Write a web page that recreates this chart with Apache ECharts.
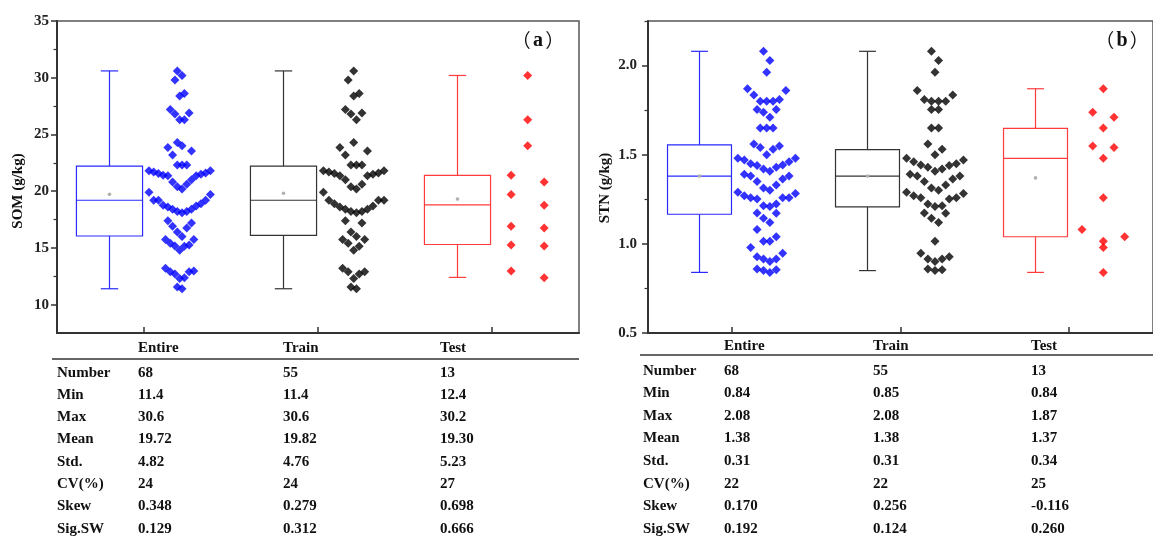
<!DOCTYPE html>
<html>
<head>
<meta charset="utf-8">
<script src="https://cdn.jsdelivr.net/npm/echarts@6/dist/echarts.min.js"></script>
<style>
html,body{margin:0;padding:0;background:#fff;}
#chart{width:1153px;height:538px;}
</style>
</head>
<body>
<div id="chart"></div>
<script>
// ---------------- DATA ----------------
const categories = ['Entire', 'Train', 'Test'];
const panelLabels = ['a', 'b'];

// SOM (g/kg) – individual samples
const somTrain = [30.6, 29.8, 28.6, 28.4, 27.2, 26.8, 26.9, 26.3, 24.3, 23.85, 23.2, 23.55,
  22.3, 22.3, 22.3, 21.8, 21.7, 21.55, 21.35, 21.0, 21.35, 21.5, 21.6, 21.8, 20.2, 20.4, 20.6,
  19.9, 19.2, 18.9, 18.6, 18.4, 18.2, 18.1, 18.2, 18.4, 18.7, 19.2, 19.2, 17.2, 17.4,
  15.75, 16.0, 16.4, 15.75, 15.15, 14.8, 15.4, 12.9, 12.7, 12.3, 12.9, 13.2, 11.55, 11.4];
const somTest = [30.2, 26.3, 24.0, 21.4, 19.7, 16.9, 15.26, 12.97, 20.8, 18.76, 16.76, 15.17, 12.38];
const somEntire = somTrain.concat(somTest);

// STN (g/kg)
const stnTrain = [2.08, 2.028, 1.962, 1.86, 1.80, 1.80, 1.80, 1.81, 1.835, 1.753, 1.753, 1.65, 1.65,
  1.56, 1.53, 1.50, 1.461, 1.44, 1.48, 1.45, 1.47, 1.42, 1.43, 1.443, 1.38, 1.38, 1.407, 1.39,
  1.35, 1.364, 1.314, 1.30, 1.33, 1.289, 1.258, 1.283, 1.27, 1.252, 1.258, 1.214, 1.224, 1.209,
  1.171, 1.173, 1.143, 1.12, 1.014, 0.948, 0.901, 0.915, 0.915, 0.928, 0.855, 0.85, 0.859];
const stnTest = [1.87, 1.65, 1.48, 1.259, 1.014, 0.98, 0.84, 1.738, 1.54, 1.71, 1.549, 1.08, 1.04];
const stnEntire = stnTrain.concat(stnTest);

// Box statistics (Entire, Train, Test)
const somMin = [11.4, 11.4, 12.4];
const somQ1 = [16.05, 16.1, 15.3];
const somMedian = [19.2, 19.2, 18.8];
const somQ3 = [22.2, 22.2, 21.4];
const somMax = [30.6, 30.6, 30.2];
const somMean = [19.72, 19.82, 19.30];

const stnMin = [0.84, 0.85, 0.84];
const stnQ1 = [1.166, 1.207, 1.04];
const stnMedian = [1.38, 1.38, 1.48];
const stnQ3 = [1.555, 1.529, 1.648];
const stnMax = [2.08, 2.08, 1.87];
const stnMean = [1.38, 1.38, 1.37];

// Axis ticks
const somMajorTicks = [10, 15, 20, 25, 30, 35];
const somMinorTicks = [12.5, 17.5, 22.5, 27.5, 32.5];
const stnMajorTicks = [0.5, 1.0, 1.5, 2.0];
const stnMinorTicks = [0.75, 1.25, 1.75, 2.25];

// Table
const rowNames = ['Number', 'Min', 'Max', 'Mean', 'Std.', 'CV(%)', 'Skew', 'Sig.SW'];
const somTableEntire = ['68', '11.4', '30.6', '19.72', '4.82', '24', '0.348', '0.129'];
const somTableTrain = ['55', '11.4', '30.6', '19.82', '4.76', '24', '0.279', '0.312'];
const somTableTest = ['13', '12.4', '30.2', '19.30', '5.23', '27', '0.698', '0.666'];
const stnTableEntire = ['68', '0.84', '2.08', '1.38', '0.31', '22', '0.170', '0.192'];
const stnTableTrain = ['55', '0.85', '2.08', '1.38', '0.31', '22', '0.256', '0.124'];
const stnTableTest = ['13', '0.84', '1.87', '1.37', '0.34', '25', '-0.116', '0.260'];

// ---------------- STYLE / LAYOUT ----------------
const FONT = "'Liberation Serif','Times New Roman',serif";
const dotColors = ['#0000ff', '#000000', '#ff0000'];
const boxColors = ['#2a2aff', '#333333', '#ff3b3b'];
const BOX_W = 0.38, CAP_W = 0.1, BOX_OFF = -0.2, SWARM_OFF = 0.205;

// Binned swarm layout (Origin style): points in the same bin spread horizontally,
// lowest value at the centre, rising outwards.
function swarm(values, binWidth, center, width) {
  const bins = new Map();
  values.forEach(v => {
    const k = Math.floor(v / binWidth + 1e-6);
    if (!bins.has(k)) bins.set(k, []);
    bins.get(k).push(v);
  });
  let maxN = 0;
  bins.forEach(b => { maxN = Math.max(maxN, b.length); });
  const step = width / maxN;
  const pts = [];
  bins.forEach(b => {
    b.sort((a, c) => a - c);
    const n = b.length;
    const slots = [];
    for (let k = 0; k < n; k++) slots.push(k - (n - 1) / 2);
    slots.sort((p, q) => (Math.abs(p) - Math.abs(q)) || (q - p));
    b.forEach((v, i) => pts.push([center + slots[i] * step, v]));
  });
  return pts;
}

function boxData(mins, q1s, meds, q3s, maxs, means) {
  return categories.map((c, i) => [i + 0.5 + BOX_OFF, mins[i], q1s[i], meds[i], q3s[i], maxs[i], means[i], i]);
}

function renderBox(params, api) {
  const x = api.value(0);
  const ci = api.value(7);
  const color = boxColors[ci];
  const pMin = api.coord([x, api.value(1)]);
  const pQ1 = api.coord([x, api.value(2)]);
  const pMed = api.coord([x, api.value(3)]);
  const pQ3 = api.coord([x, api.value(4)]);
  const pMax = api.coord([x, api.value(5)]);
  const pMean = api.coord([x, api.value(6)]);
  const hw = api.size([BOX_W, 0])[0] / 2;
  const cw = api.size([CAP_W, 0])[0] / 2;
  const st = { stroke: color, lineWidth: 1.2, fill: null };
  const cx = Math.round(pMed[0]) + 0.5;
  return {
    type: 'group',
    children: [
      { type: 'line', shape: { x1: cx, y1: pMax[1], x2: cx, y2: pQ3[1] }, style: st },
      { type: 'line', shape: { x1: cx, y1: pQ1[1], x2: cx, y2: pMin[1] }, style: st },
      { type: 'line', shape: { x1: cx - cw, y1: pMax[1], x2: cx + cw, y2: pMax[1] }, style: st },
      { type: 'line', shape: { x1: cx - cw, y1: pMin[1], x2: cx + cw, y2: pMin[1] }, style: st },
      { type: 'rect', shape: { x: cx - hw, y: pQ3[1], width: 2 * hw, height: pQ1[1] - pQ3[1] }, style: { stroke: color, lineWidth: 1.2, fill: '#fff' } },
      { type: 'line', shape: { x1: cx - hw, y1: pMed[1], x2: cx + hw, y2: pMed[1] }, style: st },
      { type: 'circle', shape: { cx: cx, cy: pMean[1], r: 1.8 }, style: { fill: '#b0b0b0' } }
    ]
  };
}

function gridOpt(left) {
  return { left: left, top: 21, width: 522, height: 312, show: true, borderColor: '#555', borderWidth: 1.5, backgroundColor: 'transparent' };
}
function xAxisOpt(gi) {
  return {
    gridIndex: gi, type: 'value', min: 0, max: 3,
    axisLine: { show: true, onZero: false, lineStyle: { color: '#333', width: 2 } },
    axisTick: { show: true, inside: true, length: 6, customValues: [0.5, 1.5, 2.5], lineStyle: { color: '#333', width: 1.5 } },
    axisLabel: { show: false }, splitLine: { show: false }
  };
}
function yMain(gi, min, max, ticks, margin, fmt) {
  return {
    gridIndex: gi, type: 'value', min: min, max: max,
    axisLine: { show: true, onZero: false, lineStyle: { color: '#333', width: 2 } },
    axisTick: { show: true, length: 6, customValues: ticks, lineStyle: { color: '#333', width: 1.5 } },
    axisLabel: { show: true, customValues: ticks, margin: margin, formatter: fmt,
      fontFamily: FONT, fontWeight: 'bold', fontSize: 15, color: '#222' },
    splitLine: { show: false }
  };
}
function yMinor(gi, min, max, ticks) {
  return {
    gridIndex: gi, type: 'value', min: min, max: max, position: 'left',
    axisLine: { show: false },
    axisTick: { show: true, length: 3.5, customValues: ticks, lineStyle: { color: '#333', width: 1.2 } },
    axisLabel: { show: false }, splitLine: { show: false }
  };
}

function scatterSeries(values, binW, idx, xi, yi) {
  return {
    type: 'scatter', xAxisIndex: xi, yAxisIndex: yi,
    symbol: 'diamond', symbolSize: 9, silent: true,
    itemStyle: { color: dotColors[idx] },
    data: swarm(values, binW, idx + 0.5 + SWARM_OFF, BOX_W),
    z: 5
  };
}

function tableGraphics(cols, rowX, colX, headerY, lineX1, lineX2, lineY, rowY0, rowStep) {
  const els = [];
  const ts = (txt, x, y) => ({
    type: 'text', x: x, y: y, silent: true,
    style: { text: txt, fontFamily: FONT, fontWeight: 'bold', fontSize: 15, fill: '#111', textVerticalAlign: 'middle', textAlign: 'left' }
  });
  categories.forEach((c, j) => els.push(ts(c, colX[j], headerY)));
  els.push({ type: 'line', silent: true, shape: { x1: lineX1, y1: lineY, x2: lineX2, y2: lineY }, style: { stroke: '#333', lineWidth: 1.5 } });
  rowNames.forEach((r, i) => {
    const y = rowY0 + i * rowStep;
    els.push(ts(r, rowX, y));
    cols.forEach((col, j) => els.push(ts(col[i], colX[j], y)));
  });
  return els;
}

function panelLabel(letter, x) {
  return {
    type: 'text', x: x, y: 41, silent: true,
    style: {
      text: '{p|（}{s| }{t|' + letter + '}{s| }{p|）}', textAlign: 'center', textVerticalAlign: 'middle',
      rich: {
        p: { fontFamily: "'Noto Sans CJK SC','Noto Sans CJK JP',sans-serif", fontSize: 19, fill: '#111', fontWeight: 'normal' },
        s: { fontFamily: FONT, fontSize: 9 },
        t: { fontFamily: FONT, fontWeight: 'bold', fontSize: 20, fill: '#111' }
      }
    }
  };
}

const graphics = [].concat(
  tableGraphics([somTableEntire, somTableTrain, somTableTest], 57, [138, 283, 440], 348, 52, 579, 359, 372.7, 22.3),
  tableGraphics([stnTableEntire, stnTableTrain, stnTableTest], 643, [724, 873, 1031], 346, 640, 1153, 355, 370.7, 22.6),
  [
    { type: 'text', x: 18.5, y: 191, rotation: Math.PI / 2, silent: true,
      style: { text: 'SOM (g/kg)', fontFamily: FONT, fontWeight: 'bold', fontSize: 15, fill: '#111', textAlign: 'center', textVerticalAlign: 'middle' } },
    { type: 'text', x: 605, y: 188, rotation: Math.PI / 2, silent: true,
      style: { text: 'STN (g/kg)', fontFamily: FONT, fontWeight: 'bold', fontSize: 15, fill: '#111', textAlign: 'center', textVerticalAlign: 'middle' } },
    panelLabel(panelLabels[0], 538),
    panelLabel(panelLabels[1], 1122)
  ]
);

const option = {
  animation: false,
  backgroundColor: '#fff',
  grid: [gridOpt(57), gridOpt(648)],
  xAxis: [xAxisOpt(0), xAxisOpt(1)],
  yAxis: [
    yMain(0, 7.5, 35, somMajorTicks, 8, v => String(v)),
    yMinor(0, 7.5, 35, somMinorTicks),
    yMain(1, 0.5, 2.25, stnMajorTicks, 11, v => Number(v).toFixed(1)),
    yMinor(1, 0.5, 2.25, stnMinorTicks)
  ],
  series: [
    { type: 'custom', xAxisIndex: 0, yAxisIndex: 0, renderItem: renderBox, silent: true,
      encode: { x: 0, y: [1, 2, 3, 4, 5] }, z: 3,
      data: boxData(somMin, somQ1, somMedian, somQ3, somMax, somMean) },
    { type: 'custom', xAxisIndex: 1, yAxisIndex: 2, renderItem: renderBox, silent: true,
      encode: { x: 0, y: [1, 2, 3, 4, 5] }, z: 3,
      data: boxData(stnMin, stnQ1, stnMedian, stnQ3, stnMax, stnMean) },
    scatterSeries(somEntire, 2, 0, 0, 0),
    scatterSeries(somTrain, 2, 1, 0, 0),
    scatterSeries(somTest, 2, 2, 0, 0),
    scatterSeries(stnEntire, 0.1, 0, 1, 2),
    scatterSeries(stnTrain, 0.1, 1, 1, 2),
    scatterSeries(stnTest, 0.1, 2, 1, 2)
  ],
  graphic: graphics
};

const chart = echarts.init(document.getElementById('chart'), null, { renderer: 'canvas' });
chart.setOption(option);
</script>
</body>
</html>
